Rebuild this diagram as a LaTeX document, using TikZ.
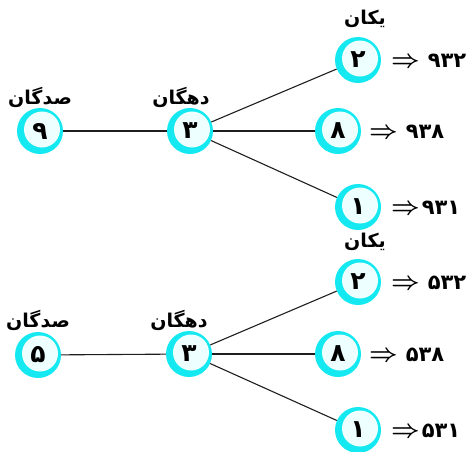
\documentclass[tikz,border=0pt]{standalone}
\usepackage{fontspec}
\TeXXeTstate=1
\newfontfamily\arabicfont[Script=Arabic]{DejaVu Sans}
\newfontfamily\digitfont{DejaVu Sans}
\definecolor{ringcyan}{RGB}{20,232,240}
\definecolor{innercyan}{RGB}{238,255,255}
\definecolor{linegray}{RGB}{30,30,30}
\newcommand{\darrow}{{\fontsize{26}{26}\selectfont\boldmath$\Rightarrow$}}
\tikzset{
  digitnode/.style={circle, fill=ringcyan, minimum size=46pt, inner sep=0pt,
    font=\digitfont\bfseries\fontsize{25}{25}\selectfont,
    path picture={\fill[innercyan] ([xshift=2pt,yshift=1.5pt]path picture bounding box.center) circle[radius=18pt];}},
  wordlabel/.style={font=\arabicfont\bfseries\fontsize{19}{19}\selectfont, inner sep=0pt},
  result/.style={anchor=west, inner sep=0pt, font=\digitfont\bfseries\fontsize{21}{21}\selectfont},
  conn/.style={draw=linegray, line width=1.1pt}
}
\begin{document}
\begin{tikzpicture}[x=1pt,y=-1pt]
\useasboundingbox (0,0) rectangle (466,451);
% top tree
\node[digitnode] (a1) at (40,131) {۹};
\node[digitnode] (a2) at (190,131) {۳};
\node[digitnode] (a3) at (358,60) {۲};
\node[digitnode] (a4) at (338,131) {۸};
\node[digitnode] (a5) at (358,207) {۱};
\draw[conn] (a1) -- (a2);
\draw[conn] (a2) -- (a3);
\draw[conn] (a2) -- (a4);
\draw[conn] (a2) -- (a5);
\node[wordlabel] (l1) at (40,97) {\beginR صدگان\endR};
\node[wordlabel] (l2) at (181,97) {\beginR دهگان\endR};
\node[wordlabel] (l3) at (365,19) {\beginR یکان\endR};
\node[result] (r1) at (391,61) {\darrow\hspace{8pt}۹۳۲};
\node[result] (r2) at (369,132) {\darrow\hspace{8pt}۹۳۸};
\node[result] (r3) at (391,208) {\darrow\hspace{2pt}۹۳۱};
% bottom tree
\node[digitnode] (b1) at (38,355) {۵};
\node[digitnode] (b2) at (189,354) {۳};
\node[digitnode] (b3) at (358,282) {۲};
\node[digitnode] (b4) at (338,354) {۸};
\node[digitnode] (b5) at (358,430) {۱};
\draw[conn] (b1) -- (b2);
\draw[conn] (b2) -- (b3);
\draw[conn] (b2) -- (b4);
\draw[conn] (b2) -- (b5);
\node[wordlabel] (m1) at (38,320) {\beginR صدگان\endR};
\node[wordlabel] (m2) at (179,320) {\beginR دهگان\endR};
\node[wordlabel] (m3) at (365,242) {\beginR یکان\endR};
\node[result] (s1) at (391,283) {\darrow\hspace{8pt}۵۳۲};
\node[result] (s2) at (369,355) {\darrow\hspace{8pt}۵۳۸};
\node[result] (s3) at (391,431) {\darrow\hspace{2pt}۵۳۱};
\end{tikzpicture}
\end{document}
